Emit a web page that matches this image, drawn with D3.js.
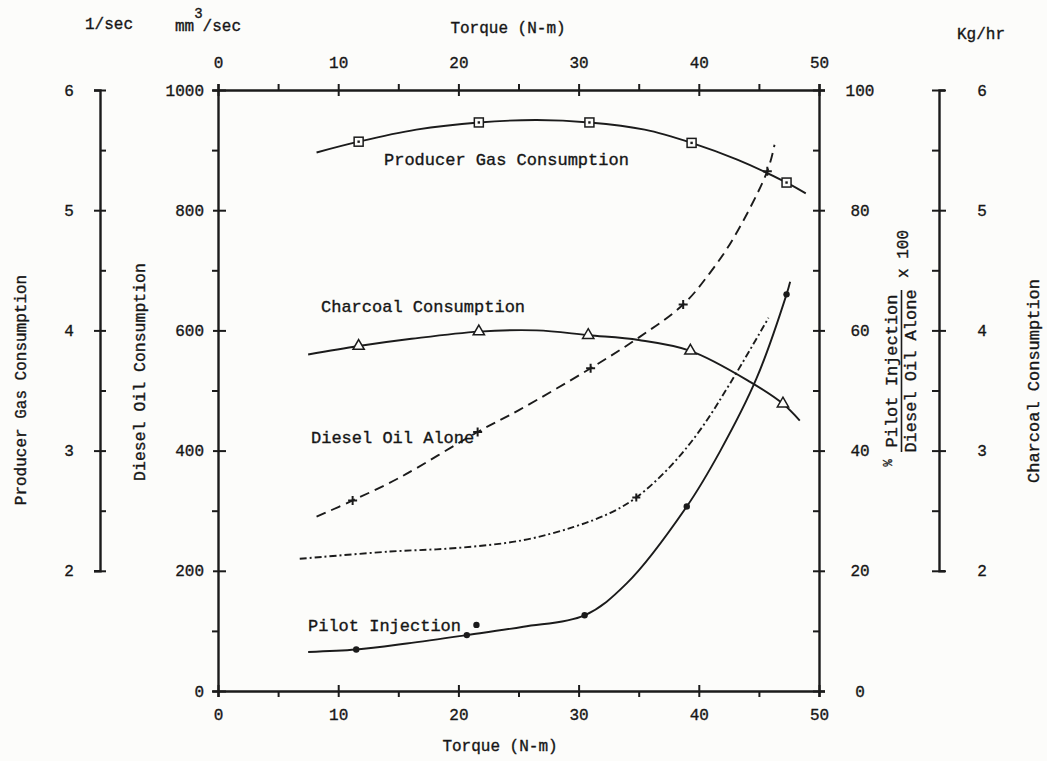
<!DOCTYPE html>
<html lang="en">
<head>
<meta charset="UTF-8">
<script src="https://cdn.jsdelivr.net/npm/d3@7"></script>
<title>Torque vs consumption</title>
<style>
  body { margin: 0; background: #fcfcfa; }
  svg text { font-family: "Liberation Mono", "DejaVu Sans Mono", monospace; fill: #161616; stroke: #161616; stroke-width: 0.35; }
  .ax path.domain { stroke: #1b1b1b; stroke-width: 2.4; }
  .ax line { stroke: #1b1b1b; stroke-width: 2; }
  .ax text { font-size: 16px; }
  .fit { fill: none; stroke: #1b1b1b; stroke-width: 1.9; }
  .mark { fill: #fcfcfa; stroke: #1b1b1b; stroke-width: 1.5; }
</style>
</head>
<body>
<svg id="chart" width="1047" height="761"></svg>
<script>
// tick values
var torqueTicks = [0, 10, 20, 30, 40, 50];
var dieselTicks = [0, 200, 400, 600, 800, 1000];
var gasTicks = [2, 3, 4, 5, 6];
var ratioTicks = [0, 20, 40, 60, 80, 100];
var charTicks = [2, 3, 4, 5, 6];

// producer gas consumption, 1/sec (squares)
var gasTorque = [11.7, 21.7, 30.9, 39.4, 47.3];
var gasValue  = [5.57, 5.73, 5.73, 5.56, 5.23];
var gasLineTorque = [8.2, 11.7, 16.5, 21.7, 26.5, 30.9, 35.5, 39.4, 43.2, 47.3, 48.9];
var gasLineValue  = [5.48, 5.57, 5.67, 5.73, 5.75, 5.73, 5.67, 5.56, 5.42, 5.23, 5.14];

// charcoal consumption, kg/hr (triangles)
var charTorque = [11.7, 21.7, 30.8, 39.3, 47.0];
var charValue  = [3.87, 3.99, 3.96, 3.83, 3.39];
var charLineTorque = [7.5, 11.7, 16.1, 21.7, 26.5, 30.8, 35.0, 39.3, 44.3, 47.0, 48.4];
var charLineValue  = [3.80, 3.87, 3.93, 3.99, 4.00, 3.96, 3.92, 3.83, 3.57, 3.39, 3.25];

// diesel oil alone, mm3/sec (crosses, dashed)
var aloneTorque = [11.2, 21.6, 31.0, 38.7, 45.7];
var aloneValue  = [317, 431, 537, 643, 865];
var aloneLineTorque = [8.2, 11.2, 15.2, 21.6, 25.0, 31.0, 35.0, 38.7, 40.9, 42.9, 45.7, 46.3];
var aloneLineValue  = [290, 317, 356, 431, 467, 537, 588, 643, 695, 754, 865, 909];

// pilot injection / diesel oil alone x 100, % (dash-dot)
var ratioTorque = [34.8];
var ratioValue  = [32.2];
var ratioLineTorque = [6.8, 14.3, 19.9, 25.4, 29.6, 32.6, 34.8, 37.6, 40.1, 42.7, 45.8];
var ratioLineValue  = [22.0, 23.2, 23.8, 25.1, 27.3, 29.6, 32.2, 37.3, 43.4, 51.5, 62.1];

// pilot injection, mm3/sec (dots)
var pilotTorque = [11.5, 20.7, 21.5, 30.5, 39.0, 47.3];
var pilotValue  = [69, 93, 110, 126, 307, 660];
var pilotLineTorque = [7.5, 11.5, 15.7, 20.7, 25.4, 30.5, 34.0, 39.0, 41.8, 44.8, 47.3, 47.6];
var pilotLineValue  = [65, 69, 79, 93, 107, 126, 179, 307, 400, 520, 660, 681];

var svg = d3.select("#chart");
var boxLeft = 218, boxRight = 819, boxTop = 90, boxBottom = 691;

var x = d3.scaleLinear([0, 50], [boxLeft, boxRight]);
var yDiesel = d3.scaleLinear([0, 1000], [boxBottom, boxTop]);
var yGas = d3.scaleLinear([1, 6], [boxBottom, boxTop]);
var yRatio = d3.scaleLinear([0, 100], [boxBottom, boxTop]);
var yChar = d3.scaleLinear([1, 6], [boxBottom, boxTop]);

function zip(a, b) { return a.map(function(d, i) { return [d, b[i]]; }); }

// crossing major ticks, one-sided minor ticks
function styleTicks(g, majors, vertical, majA, majB, minA, minB) {
    g.selectAll(".tick line").each(function(d) {
        var major = majors.indexOf(d) >= 0;
        var a = major ? majA : minA, b = major ? majB : minB;
        if (vertical) d3.select(this).attr("x1", a).attr("x2", b);
        else d3.select(this).attr("y1", a).attr("y2", b);
    });
}

// bottom torque axis
var gb = svg.append("g").attr("class", "ax").attr("transform", "translate(0," + boxBottom + ")")
    .call(d3.axisBottom(x).tickValues(d3.range(0, 51, 5)).tickSizeOuter(0).tickSize(6).tickPadding(12)
        .tickFormat(function(d) { return torqueTicks.indexOf(d) >= 0 ? d : ""; }));
styleTicks(gb, torqueTicks, false, -6, 6, 0, 6);

// top torque axis
var gt = svg.append("g").attr("class", "ax").attr("transform", "translate(0," + boxTop + ")")
    .call(d3.axisTop(x).tickValues(d3.range(0, 51, 5)).tickSizeOuter(0).tickSize(6).tickPadding(16)
        .tickFormat(function(d) { return torqueTicks.indexOf(d) >= 0 ? d : ""; }));
styleTicks(gt, torqueTicks, false, 6, -6, 0, -6);

// diesel oil axis (left edge of the box)
var gd = svg.append("g").attr("class", "ax").attr("transform", "translate(" + boxLeft + ",0)")
    .call(d3.axisLeft(yDiesel).tickValues(d3.range(0, 1001, 100)).tickSizeOuter(0).tickSize(6).tickPadding(8)
        .tickFormat(function(d) { return dieselTicks.indexOf(d) >= 0 ? d : ""; }));
styleTicks(gd, dieselTicks, true, 8, -5, 0, -6);

// % ratio axis (right edge of the box)
var gr = svg.append("g").attr("class", "ax").attr("transform", "translate(" + boxRight + ",0)")
    .call(d3.axisRight(yRatio).tickValues(d3.range(0, 101, 10)).tickSizeOuter(0).tickSize(6).tickPadding(36)
        .tickFormat(function(d) { return ratioTicks.indexOf(d) >= 0 ? d : ""; }));
styleTicks(gr, ratioTicks, true, -6, 6, -6, 0);
gr.selectAll(".tick text").attr("text-anchor", "middle").attr("x", 41);

// producer gas axis, far left
var yGasAxis = d3.scaleLinear([2, 6], [yGas(2), yGas(6)]);
var gg = svg.append("g").attr("class", "ax").attr("transform", "translate(100,0)")
    .call(d3.axisLeft(yGasAxis).tickValues(d3.range(2, 6.01, 0.5)).tickSizeOuter(0).tickSize(6).tickPadding(26)
        .tickFormat(function(d) { return gasTicks.indexOf(d) >= 0 ? d : ""; }));
styleTicks(gg, gasTicks, true, 6, -6, 0, 6);
gg.selectAll(".tick text").attr("text-anchor", "middle").attr("x", -31);

// charcoal axis, far right
var yCharAxis = d3.scaleLinear([2, 6], [yChar(2), yChar(6)]);
var gc = svg.append("g").attr("class", "ax").attr("transform", "translate(939,0)")
    .call(d3.axisRight(yCharAxis).tickValues(d3.range(2, 6.01, 0.5)).tickSizeOuter(0).tickSize(6).tickPadding(36)
        .tickFormat(function(d) { return charTicks.indexOf(d) >= 0 ? d : ""; }));
styleTicks(gc, charTicks, true, -7, 7, -7, 0);
gc.selectAll(".tick text").attr("text-anchor", "middle").attr("x", 43);

// curves
var curve = d3.curveCatmullRom.alpha(0.5);
function drawLine(tArr, vArr, yScale, dash) {
    svg.append("path").attr("class", "fit")
        .attr("d", d3.line().curve(curve).x(function(d) { return x(d[0]); }).y(function(d) { return yScale(d[1]); })(zip(tArr, vArr)))
        .attr("stroke-dasharray", dash);
}
drawLine(gasLineTorque, gasLineValue, yGas, null);
drawLine(charLineTorque, charLineValue, yChar, null);
drawLine(aloneLineTorque, aloneLineValue, yDiesel, "10,6");
drawLine(ratioLineTorque, ratioLineValue, yRatio, "7,3,2,3");
drawLine(pilotLineTorque, pilotLineValue, yDiesel, null);

// markers
var sq = svg.append("g").selectAll("g").data(zip(gasTorque, gasValue)).join("g")
    .attr("transform", function(d) { return "translate(" + x(d[0]) + "," + yGas(d[1]) + ")"; });
sq.append("rect").attr("class", "mark").attr("x", -4.5).attr("y", -4.5).attr("width", 9).attr("height", 9);
sq.append("rect").attr("x", -1.2).attr("y", -1.2).attr("width", 2.4).attr("height", 2.4).attr("fill", "#1b1b1b");
svg.append("g").selectAll("path").data(zip(charTorque, charValue)).join("path").attr("class", "mark")
    .attr("d", d3.symbol(d3.symbolTriangle, 55))
    .attr("transform", function(d) { return "translate(" + x(d[0]) + "," + yChar(d[1]) + ")"; });
svg.append("g").selectAll("path").data(zip(aloneTorque, aloneValue)).join("path").attr("class", "mark")
    .attr("d", "M-4.5,0H4.5M0,-4.5V4.5").style("stroke-width", 2)
    .attr("transform", function(d) { return "translate(" + x(d[0]) + "," + yDiesel(d[1]) + ")"; });
svg.append("g").selectAll("path").data(zip(ratioTorque, ratioValue)).join("path").attr("class", "mark")
    .attr("d", "M-4,0H4M0,-4V4").style("stroke-width", 2)
    .attr("transform", function(d) { return "translate(" + x(d[0]) + "," + yRatio(d[1]) + ")"; });
svg.append("g").selectAll("circle").data(zip(pilotTorque, pilotValue)).join("circle")
    .attr("cx", function(d) { return x(d[0]); }).attr("cy", function(d) { return yDiesel(d[1]); })
    .attr("r", 3.2).attr("fill", "#1b1b1b");

// curve labels
var labels = svg.append("g").style("font-size", "17px");
labels.append("text").attr("x", 384).attr("y", 164.5).text("Producer Gas Consumption");
labels.append("text").attr("x", 321).attr("y", 312).text("Charcoal Consumption");
labels.append("text").attr("x", 311).attr("y", 443).text("Diesel Oil Alone");
labels.append("text").attr("x", 308).attr("y", 631).text("Pilot Injection");

// titles and units
var t = svg.append("g").style("font-size", "16px");
t.append("text").attr("x", 508).attr("y", 33).attr("text-anchor", "middle").text("Torque (N-m)");
t.append("text").attr("x", 500).attr("y", 751).attr("text-anchor", "middle").text("Torque (N-m)");
t.append("text").attr("x", 85).attr("y", 29).text("1/sec");
var mm = t.append("text").attr("x", 175).attr("y", 31).text("mm");
mm.append("tspan").attr("dy", -13).style("font-size", "14px").text("3");
mm.append("tspan").attr("dy", 13).text("/sec");
t.append("text").attr("x", 957).attr("y", 39).text("Kg/hr");

function vlabel(px, py, txt, size) {
    return t.append("text").attr("transform", "translate(" + px + "," + py + ") rotate(-90)")
        .attr("text-anchor", "middle").attr("dominant-baseline", "central")
        .style("font-size", size || "16px").text(txt);
}
vlabel(22, 390, "Producer Gas Consumption");
vlabel(140, 372, "Diesel Oil Consumption", "16.5px");
vlabel(1034, 381, "Charcoal Consumption", "17px");
vlabel(892, 371, "Pilot Injection", "17px");
vlabel(911, 371, "Diesel Oil Alone", "17px");
vlabel(904, 254, "x 100");
vlabel(889, 463, "%", "12px");
t.append("line").attr("x1", 901.5).attr("x2", 901.5).attr("y1", 290).attr("y2", 452)
    .attr("stroke", "#1b1b1b").attr("stroke-width", 1.6);
</script>
</body>
</html>
